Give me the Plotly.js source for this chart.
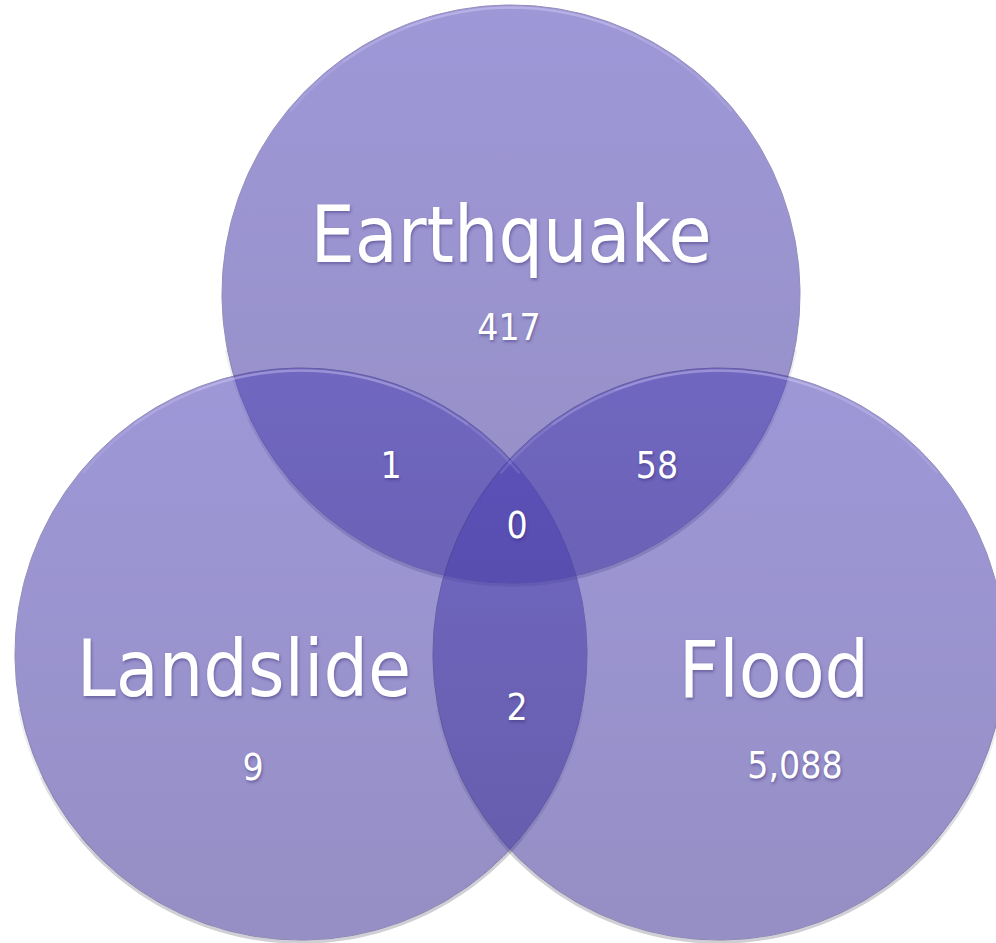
<!DOCTYPE html>
<html>
<head>
<meta charset="utf-8">
<script src="https://cdn.plot.ly/plotly-3.0.1.min.js"></script>
<style>
  html, body { margin: 0; padding: 0; background: #ffffff; }
  #chart { width: 996px; height: 943px; }
</style>
</head>
<body>
<div id="chart"></div>
<script>
// ---- data ----
const setNames = ['Earthquake', 'Landslide', 'Flood'];
const setOnlyCounts = [417, 9, 5088];
const pairNames = ['Earthquake & Landslide', 'Earthquake & Flood', 'Landslide & Flood'];
const pairCounts = [1, 58, 2];
const tripleName = 'Earthquake & Landslide & Flood';
const tripleCount = 0;

// ---- layout geometry (pixel space of the plot) ----
const W = 996, H = 943;
const circleCx = [511, 301, 719];
const circleCy = [294, 654, 654];
const circleR  = [289, 286, 286];
const setLabelPos   = [[511, 242], [244, 676], [774, 677]];
const setCountPos   = [[509, 331], [253, 771], [795, 769]];
const pairCountPos  = [[391, 469], [657, 469], [517, 711]];
const tripleCountPos = [517, 529];

const FONT = 'DejaVu Sans Condensed, Liberation Sans, Arial, sans-serif';
const fmt = v => v.toLocaleString('en-US');

const traces = [];

function circlePts(cx, cy, r, a0, a1, n) {
  const xs = [], ys = [];
  for (let i = 0; i <= n; i++) {
    const a = a0 + (a1 - a0) * i / n;
    xs.push(cx + r * Math.cos(a));
    ys.push(cy + r * Math.sin(a));
  }
  return {xs, ys};
}

// soft shadow along the lower outer edge (stacked arcs so it fades at the ends)
const shadowSpans = [[0.06, 0.94], [0.14, 0.86], [0.22, 0.78]];
for (let k = 0; k < 3; k++) {
  shadowSpans.forEach(s => {
    const p = circlePts(circleCx[k], circleCy[k] + 1.5, circleR[k] + 0.5, s[0] * Math.PI, s[1] * Math.PI, 140);
    traces.push({
      type: 'scatter', mode: 'lines', x: p.xs, y: p.ys,
      line: {color: 'rgba(40,35,70,0.08)', width: 3.5}, hoverinfo: 'skip', showlegend: false
    });
  });
}

// circles
for (let k = 0; k < 3; k++) {
  const p = circlePts(circleCx[k], circleCy[k], circleR[k], 0, 2 * Math.PI, 360);
  traces.push({
    type: 'scatter', mode: 'lines', x: p.xs, y: p.ys,
    fill: 'toself',
    fillgradient: {
      type: 'vertical',
      start: circleCy[k] - circleR[k],
      stop: circleCy[k] + circleR[k],
      colorscale: [[0, 'rgb(80,68,184)'], [1, 'rgb(64,52,150)']]
    },
    line: {color: 'rgb(60,50,130)', width: 1},
    opacity: 0.55,
    name: setNames[k], hoverinfo: 'name', showlegend: false
  });
}

// light rim highlight on the upper inner edge (stacked so it fades at the ends)
const rimSpans = [[1.22, 1.78], [1.3, 1.7], [1.38, 1.62]];
for (let k = 0; k < 3; k++) {
  rimSpans.forEach(s => {
    const p = circlePts(circleCx[k], circleCy[k], circleR[k] - 2.5, s[0] * Math.PI, s[1] * Math.PI, 120);
    traces.push({
      type: 'scatter', mode: 'lines', x: p.xs, y: p.ys,
      line: {color: 'rgba(225,222,255,0.14)', width: 2.5}, hoverinfo: 'skip', showlegend: false
    });
  });
}

const shadow = 'rgba(50,40,110,0.45) 1px 2px 3px';

// set labels
traces.push({
  type: 'scatter', mode: 'text',
  x: setLabelPos.map(p => p[0]), y: setLabelPos.map(p => p[1]),
  text: setNames, textposition: 'middle center',
  textfont: {family: FONT, size: 78, color: '#ffffff', shadow: shadow},
  hoverinfo: 'skip', showlegend: false
});
// counts
const cntX = [], cntY = [], cntT = [];
setOnlyCounts.forEach((v, i) => { cntX.push(setCountPos[i][0]); cntY.push(setCountPos[i][1]); cntT.push(fmt(v)); });
pairCounts.forEach((v, i) => { cntX.push(pairCountPos[i][0]); cntY.push(pairCountPos[i][1]); cntT.push(fmt(v)); });
cntX.push(tripleCountPos[0]); cntY.push(tripleCountPos[1]); cntT.push(fmt(tripleCount));
traces.push({
  type: 'scatter', mode: 'text', x: cntX, y: cntY, text: cntT,
  textposition: 'middle center',
  textfont: {family: FONT, size: 37, color: '#ffffff', shadow: shadow},
  hoverinfo: 'skip', showlegend: false
});

const layout = {
  width: W, height: H,
  margin: {l: 0, r: 0, t: 0, b: 0, pad: 0},
  paper_bgcolor: '#ffffff', plot_bgcolor: '#ffffff',
  xaxis: {range: [0, W], visible: false, fixedrange: true},
  yaxis: {range: [H, 0], visible: false, fixedrange: true},
  showlegend: false
};

Plotly.newPlot('chart', traces, layout, {staticPlot: true, displayModeBar: false});
</script>
</body>
</html>
